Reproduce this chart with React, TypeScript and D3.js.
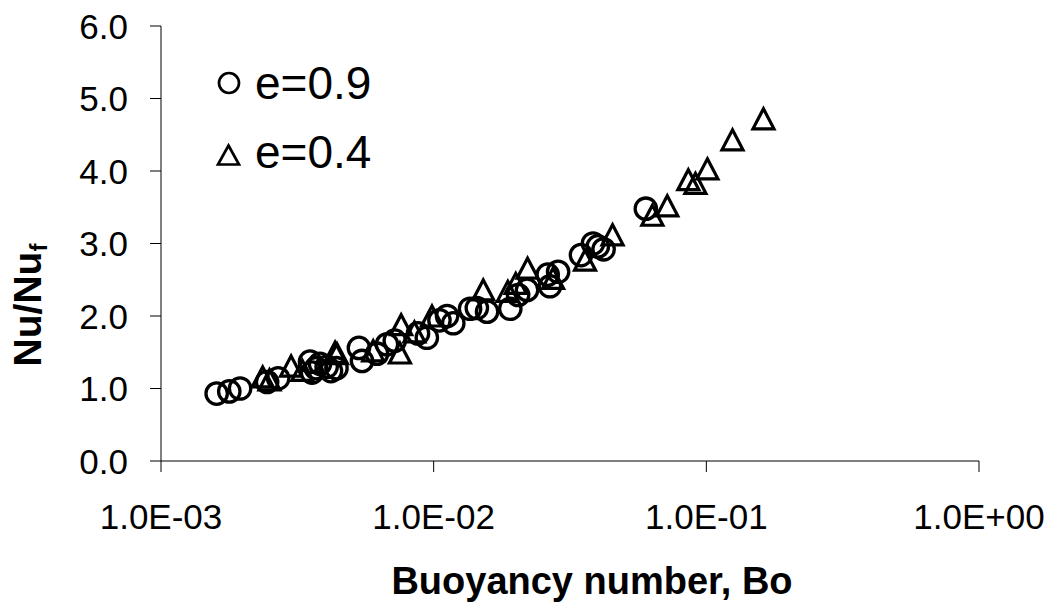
import React from "react";
import * as d3 from "d3";

// ---- data ----
const xTicks = [0.001, 0.01, 0.1, 1];
const xTickLabels = ["1.0E-03", "1.0E-02", "1.0E-01", "1.0E+00"];
const yTicks = [0, 1, 2, 3, 4, 5, 6];
const yTickLabels = ["0.0", "1.0", "2.0", "3.0", "4.0", "5.0", "6.0"];

const seriesNames = ["e=0.9", "e=0.4"];

// e = 0.9 (circles): [Bo, Nu/Nuf]
const circleBo = [
  0.0016, 0.00178, 0.00195, 0.00245, 0.00269, 0.00352, 0.00358, 0.0037, 0.00383, 0.00405,
  0.0042, 0.0044, 0.00532, 0.00546, 0.0062, 0.00674, 0.0072, 0.00876, 0.00944, 0.0105,
  0.0112, 0.0118, 0.0136, 0.0144, 0.0157, 0.0191, 0.0204, 0.022, 0.0262, 0.0267,
  0.0286, 0.0347, 0.0384, 0.04, 0.042, 0.06,
];
const circleNu = [
  0.93, 0.96, 1.0, 1.09, 1.14, 1.37, 1.22, 1.28, 1.34, 1.3,
  1.24, 1.28, 1.56, 1.38, 1.48, 1.61, 1.66, 1.76, 1.7, 1.94,
  2.0, 1.9, 2.1, 2.11, 2.06, 2.1, 2.29, 2.36, 2.57, 2.41,
  2.61, 2.84, 3.0, 2.96, 2.92, 3.48,
];

// e = 0.4 (triangles)
const triBo = [
  0.00236, 0.0025, 0.003, 0.0033, 0.00435, 0.00442, 0.006, 0.00752, 0.0076, 0.0085,
  0.00986, 0.0152, 0.0187, 0.02, 0.0221, 0.0274, 0.0359, 0.0453, 0.0634, 0.0719,
  0.0859, 0.0912, 0.1009, 0.1247, 0.162,
];
const triNu = [
  1.16, 1.12, 1.31, 1.25, 1.5, 1.48, 1.52, 1.49, 1.88, 1.78,
  2.0, 2.36, 2.34, 2.45, 2.66, 2.52, 2.77, 3.12, 3.39, 3.52,
  3.88, 3.83, 4.03, 4.43, 4.72,
];

const FONT = "'Liberation Sans', Arial, Helvetica, sans-serif";

const W = 1060;
const H = 606;

const x = d3.scaleLog().domain([0.001, 1]).range([161, 979]);
const y = d3.scaleLinear().domain([0, 6]).range([461, 26]);

function triPath(cx: number, cy: number, hw = 10.5, hh = 10) {
  const p = d3.path();
  p.moveTo(cx, cy - hh);
  p.lineTo(cx + hw, cy + hh);
  p.lineTo(cx - hw, cy + hh);
  p.closePath();
  return p.toString();
}

export default function App() {
  const circles = circleBo.map((b, i) => ({ b, v: circleNu[i] }));
  const tris = triBo.map((b, i) => ({ b, v: triNu[i] }));
  const [x0, x1] = x.range();
  const [y0, y1] = y.range();
  return (
    <div style={{ position: "fixed", left: 0, top: 0, width: W, height: H, background: "#fff" }}>
      <svg width={W} height={H} style={{ display: "block" }} fontFamily={FONT}>
        <rect width={W} height={H} fill="#fff" />
        {/* axes */}
        <line x1={x0} x2={x0} y1={y1} y2={y0} stroke="#000" strokeWidth={1} />
        <line x1={x0} x2={x1} y1={y0} y2={y0} stroke="#000" strokeWidth={1} />
        {yTicks.map((t, i) => (
          <g key={"y" + i}>
            <line x1={x0 - 11} x2={x0} y1={y(t)} y2={y(t)} stroke="#000" strokeWidth={1} />
            <text x={128} y={y(t)} dy="0.36em" textAnchor="end" fontSize={35} fill="#000">
              {yTickLabels[i]}
            </text>
          </g>
        ))}
        {xTicks.map((t, i) => (
          <g key={"x" + i}>
            <line x1={x(t)} x2={x(t)} y1={y0} y2={y0 + 11} stroke="#000" strokeWidth={1} />
            <text x={x(t)} y={529} textAnchor="middle" fontSize={35} fill="#000">
              {xTickLabels[i]}
            </text>
          </g>
        ))}
        {/* axis titles */}
        <text x={592} y={594} textAnchor="middle" fontSize={38} fontWeight="bold" fill="#000">
          Buoyancy number, Bo
        </text>
        <text
          transform={`translate(41,305) rotate(-90)`}
          textAnchor="middle"
          fontSize={39}
          fontWeight="bold"
          fill="#000"
        >
          Nu/Nu
          <tspan fontSize={24} dy={6}>f</tspan>
        </text>
        {/* data */}
        {circles.map((d, i) => (
          <circle key={"c" + i} cx={x(d.b)} cy={y(d.v)} r={10.7} fill="none" stroke="#000" strokeWidth={3.3} />
        ))}
        {tris.map((d, i) => (
          <path key={"t" + i} d={triPath(x(d.b), y(d.v))} fill="none" stroke="#000" strokeWidth={3.2} strokeLinejoin="miter" />
        ))}
        {/* legend */}
        <circle cx={229} cy={83} r={10} fill="none" stroke="#000" strokeWidth={2.7} />
        <text x={255} y={99} fontSize={46} fill="#000">{seriesNames[0]}</text>
        <path d={triPath(228.5, 155, 10.5, 9.5)} fill="none" stroke="#000" strokeWidth={2.7} strokeLinejoin="miter" />
        <text x={255} y={168} fontSize={46} fill="#000">{seriesNames[1]}</text>
      </svg>
    </div>
  );
}
